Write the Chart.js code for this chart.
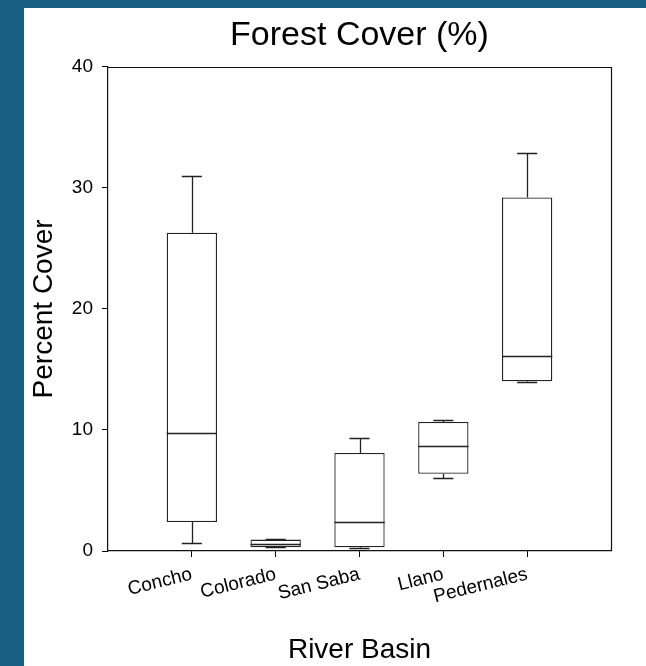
<!DOCTYPE html>
<html>
<head>
<meta charset="utf-8">
<script src="https://cdn.jsdelivr.net/npm/chart.js@4"></script>
<style>
  html, body { margin: 0; padding: 0; background: #175f82; }
  #wrap { position: absolute; left: 24px; top: 8px; width: 622px; height: 658px; background: #fff; }
</style>
</head>
<body>
<div id="wrap"><canvas id="forest"></canvas></div>
<script>
// box plot summary per river basin (percent forest cover)
const basins = ['Concho', 'Colorado', 'San Saba', 'Llano', 'Pedernales'];
const minV = [0.7, 0.3, 0.25, 6.07, 13.98];
const q1V = [2.4, 0.32, 0.3, 6.38, 14.02];
const medV = [9.75, 0.58, 2.37, 8.7, 16.1];
const q3V = [26.3, 0.94, 8.09, 10.66, 29.2];
const maxV = [31.0, 1.02, 9.3, 10.79, 32.9];
const yTicks = [0, 10, 20, 30, 40];

var ctx = document.getElementById('forest').getContext('2d');

const boxes = basins.map((b, i) => ({ x: i + 1, y: [q1V[i], q3V[i]] }));

// whiskers, caps, medians and the frame, drawn through the chart scales
const boxExtras = {
    id: 'boxExtras',
    afterDatasetsDraw(chart) {
        const xs = chart.scales.x, ys = chart.scales.y;
        const c = chart.ctx;
        const bars = chart.getDatasetMeta(0).data;
        c.save();
        c.strokeStyle = '#222';
        c.lineWidth = 1.3;
        basins.forEach((b, i) => {
            const x = Math.round(xs.getPixelForValue(i + 1)) + 0.5;
            const capL = xs.getPixelForValue(i + 1 - 0.12);
            const capR = xs.getPixelForValue(i + 1 + 0.12);
            const yMax = Math.round(ys.getPixelForValue(maxV[i])) + 0.5;
            const yMin = Math.round(ys.getPixelForValue(minV[i])) + 0.5;
            const yQ1 = ys.getPixelForValue(q1V[i]);
            const yQ3 = ys.getPixelForValue(q3V[i]);
            const yMed = Math.round(ys.getPixelForValue(medV[i])) + 0.5;
            const half = bars[i].width / 2;
            c.beginPath();
            c.moveTo(x, yQ3); c.lineTo(x, yMax);
            c.moveTo(capL, yMax); c.lineTo(capR, yMax);
            c.moveTo(x, yQ1); c.lineTo(x, yMin);
            c.moveTo(capL, yMin); c.lineTo(capR, yMin);
            c.moveTo(bars[i].x - half, yMed); c.lineTo(bars[i].x + half, yMed);
            c.stroke();
        });
        const a = chart.chartArea;
        c.strokeStyle = '#111';
        c.lineWidth = 1.2;
        c.beginPath();
        c.moveTo(a.left, Math.round(a.top) + 0.5);
        c.lineTo(Math.round(a.right) + 0.5, Math.round(a.top) + 0.5);
        c.lineTo(Math.round(a.right) + 0.5, a.bottom);
        c.stroke();
        c.restore();
    }
};

const forestChart = new Chart(ctx, {
    type: 'bar',
    data: {
        datasets: [{
            label: 'Forest Cover',
            data: boxes,
            backgroundColor: '#ffffff',
            borderColor: '#222',
            borderWidth: 1.3,
            borderSkipped: false,
            barPercentage: 0.6,
            categoryPercentage: 1.0,
        }]
    },
    options: {
        responsive: true,
        maintainAspectRatio: false,
        animation: false,
        layout: {
            padding: { left: 0, right: 35, top: 0, bottom: 0 },
        },
        plugins: {
            legend: { display: false },
            tooltip: { enabled: false },
            title: {
                display: true,
                fullSize: false,
                text: 'Forest Cover (%)',
                font: { size: 34, family: 'Liberation Sans, Arial', weight: 'normal', lineHeight: 1.2 },
                color: '#000',
                padding: { top: 7, bottom: 11 },
            },
        },
        scales: {
            x: {
                type: 'linear',
                min: 0,
                max: 6,
                offset: false,
                afterBuildTicks: (scale) => {
                    scale.ticks = basins.map((b, i) => ({ value: i + 1 }));
                },
                afterFit: (scale) => { scale.height = 115; },
                ticks: {
                    autoSkip: false,
                    minRotation: 14,
                    maxRotation: 14,
                    padding: 6,
                    color: '#000',
                    font: { size: 19, family: 'Liberation Sans, Arial' },
                    callback: (v) => basins[v - 1],
                },
                grid: { display: true, drawOnChartArea: false, drawTicks: true, tickLength: 6, color: '#000', offset: false },
                border: { display: true, color: '#111', width: 1.2 },
                title: {
                    display: true,
                    text: 'River Basin',
                    color: '#000',
                    font: { size: 28, family: 'Liberation Sans, Arial', lineHeight: 1 },
                    padding: { top: 0, bottom: 2 },
                },
            },
            y: {
                min: 0,
                max: 40,
                afterBuildTicks: (scale) => {
                    scale.ticks = yTicks.map(v => ({ value: v }));
                },
                afterFit: (scale) => { scale.width = 84; },
                ticks: {
                    padding: 9,
                    color: '#000',
                    font: { size: 19, family: 'Liberation Sans, Arial' },
                },
                grid: { display: true, drawOnChartArea: false, drawTicks: true, tickLength: 6, color: '#000' },
                border: { display: true, color: '#111', width: 1.2 },
                title: {
                    display: true,
                    text: 'Percent Cover',
                    color: '#000',
                    font: { size: 28, family: 'Liberation Sans, Arial', lineHeight: 1 },
                    padding: { top: 6, bottom: 0 },
                },
            },
        },
    },
    plugins: [boxExtras],
});
</script>
</body>
</html>
